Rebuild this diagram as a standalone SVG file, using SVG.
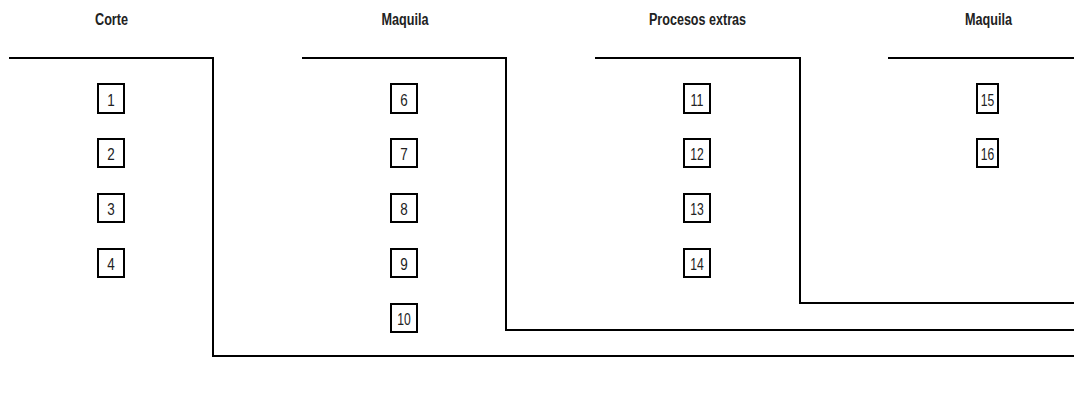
<svg xmlns="http://www.w3.org/2000/svg" width="1074" height="405" viewBox="0 0 1074 405">
<style>
.title{font-family:"Liberation Sans",Arial,sans-serif;font-weight:bold;font-size:16px;fill:#222;text-anchor:middle}
.num{font-family:"Liberation Sans",Arial,sans-serif;font-size:17px;fill:#222;text-anchor:middle;dominant-baseline:central}
.box{fill:#fff;stroke:#000;stroke-width:2}
.ln{fill:none;stroke:#000;stroke-width:2}
</style>
<rect width="1074" height="405" fill="#fff"/>
<g id="connectors">
<polyline class="ln" points="9,58 213,58 213,356 1074,356"/>
<polyline class="ln" points="302,58 506,58 506,330 1074,330"/>
<polyline class="ln" points="595,58 800,58 800,303 1074,303"/>
<polyline class="ln" points="888,58 1074,58"/>
</g>
<g id="col-corte">
<text class="title" x="111.5" y="25" textLength="33" lengthAdjust="spacingAndGlyphs">Corte</text>
<g id="n1"><rect class="box" x="98" y="84" width="26" height="29"/><text class="num" x="111" y="100" textLength="7.5" lengthAdjust="spacingAndGlyphs">1</text></g>
<g id="n2"><rect class="box" x="98" y="139" width="26" height="28"/><text class="num" x="111" y="154" textLength="7.5" lengthAdjust="spacingAndGlyphs">2</text></g>
<g id="n3"><rect class="box" x="98" y="194" width="26" height="28"/><text class="num" x="111" y="209" textLength="7.5" lengthAdjust="spacingAndGlyphs">3</text></g>
<g id="n4"><rect class="box" x="98" y="249" width="26" height="28"/><text class="num" x="111" y="264" textLength="7.5" lengthAdjust="spacingAndGlyphs">4</text></g>
</g>
<g id="col-maquila">
<text class="title" x="405" y="25" textLength="47" lengthAdjust="spacingAndGlyphs">Maquila</text>
<g id="n6"><rect class="box" x="391" y="84" width="26" height="29"/><text class="num" x="404" y="100" textLength="7.5" lengthAdjust="spacingAndGlyphs">6</text></g>
<g id="n7"><rect class="box" x="391" y="139" width="26" height="28"/><text class="num" x="404" y="154" textLength="7.5" lengthAdjust="spacingAndGlyphs">7</text></g>
<g id="n8"><rect class="box" x="391" y="194" width="26" height="28"/><text class="num" x="404" y="209" textLength="7.5" lengthAdjust="spacingAndGlyphs">8</text></g>
<g id="n9"><rect class="box" x="391" y="249" width="26" height="28"/><text class="num" x="404" y="264" textLength="7.5" lengthAdjust="spacingAndGlyphs">9</text></g>
<g id="n10"><rect class="box" x="391" y="304" width="26" height="28"/><text class="num" x="404" y="319" textLength="13.5" lengthAdjust="spacingAndGlyphs">10</text></g>
</g>
<g id="col-procesos">
<text class="title" x="697.5" y="25" textLength="97" lengthAdjust="spacingAndGlyphs">Procesos extras</text>
<g id="n11"><rect class="box" x="684" y="84" width="26" height="29"/><text class="num" x="697" y="100" textLength="13" lengthAdjust="spacingAndGlyphs">11</text></g>
<g id="n12"><rect class="box" x="684" y="139" width="26" height="28"/><text class="num" x="697" y="154" textLength="13.5" lengthAdjust="spacingAndGlyphs">12</text></g>
<g id="n13"><rect class="box" x="684" y="194" width="26" height="28"/><text class="num" x="697" y="209" textLength="13.5" lengthAdjust="spacingAndGlyphs">13</text></g>
<g id="n14"><rect class="box" x="684" y="249" width="26" height="28"/><text class="num" x="697" y="264" textLength="13.5" lengthAdjust="spacingAndGlyphs">14</text></g>
</g>
<g id="col-maquila2">
<text class="title" x="988.5" y="25" textLength="47" lengthAdjust="spacingAndGlyphs">Maquila</text>
<g id="n15"><rect class="box" x="977" y="84" width="21" height="29"/><text class="num" x="987.5" y="100" textLength="13.5" lengthAdjust="spacingAndGlyphs">15</text></g>
<g id="n16"><rect class="box" x="977" y="139" width="21" height="28"/><text class="num" x="987.5" y="154" textLength="13.5" lengthAdjust="spacingAndGlyphs">16</text></g>
</g>
</svg>
